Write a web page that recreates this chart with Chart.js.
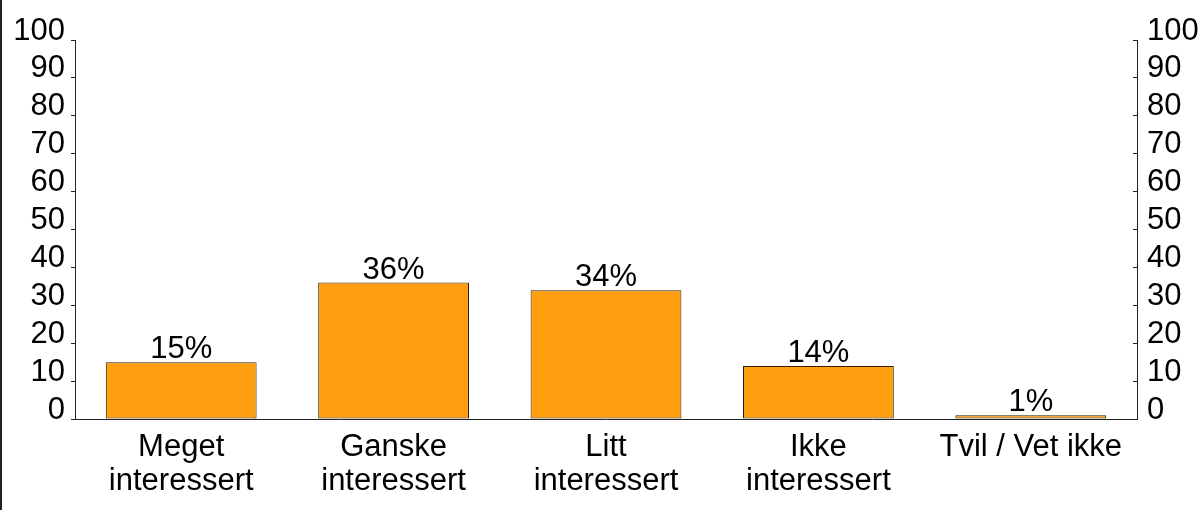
<!DOCTYPE html>
<html lang="no">
<head>
    <meta charset="UTF-8">
    <title>Interesse</title>
    <script src="https://cdn.jsdelivr.net/npm/chart.js@4.4.0/dist/chart.umd.min.js"></script>
    <style>
        html, body { margin: 0; padding: 0; background: #fff; }
        .wrap {
            position: relative;
            width: 1201px;
            height: 510px;
            box-sizing: border-box;
            border-left: 2px solid #222;
        }
        canvas { position: absolute; left: -2px; top: 0; }
    </style>
</head>
<body>
    <div class="wrap">
        <canvas id="chart" width="1201" height="510"></canvas>
    </div>

    <script>
        // data
        const categories = [['Meget', 'interessert'], ['Ganske', 'interessert'], ['Litt', 'interessert'], ['Ikke', 'interessert'], 'Tvil / Vet ikke'];
        const values = [15, 36, 34, 14, 1];
        const valueLabels = ['15%', '36%', '34%', '14%', '1%'];

        const FONT = "'Liberation Sans', Arial, sans-serif";
        const ink = '#000';

        // tekst over stolpene
        const barLabels = {
            id: 'barLabels',
            afterDatasetsDraw(chart) {
                const ctx = chart.ctx;
                const meta = chart.getDatasetMeta(0);
                ctx.save();
                ctx.font = '31px ' + FONT;
                ctx.fillStyle = ink;
                ctx.textAlign = 'center';
                ctx.textBaseline = 'alphabetic';
                meta.data.forEach((bar, i) => {
                    ctx.fillText(valueLabels[i], bar.x, bar.y - 4);
                });
                ctx.restore();
            }
        };

        new Chart(document.getElementById('chart'), {
            type: 'bar',
            data: {
                labels: categories,
                datasets: [{
                    data: values,
                    backgroundColor: '#FF9E0F',
                    borderColor: '#2e2000',
                    borderWidth: 1,
                    borderSkipped: false,
                    barPercentage: 0.71,
                    categoryPercentage: 1.0
                }]
            },
            options: {
                responsive: false,
                animation: false,
                layout: { padding: { top: 40, left: 0, right: 0, bottom: 0 } },
                plugins: {
                    legend: { display: false },
                    tooltip: { enabled: false }
                },
                scales: {
                    x: {
                        grid: { display: false },
                        border: { display: true, color: '#222', width: 1 },
                        ticks: {
                            color: ink,
                            font: { family: FONT, size: 31, lineHeight: 1.1 },
                            padding: 3,
                            maxRotation: 0,
                            autoSkip: false
                        },
                        afterFit(axis) { axis.height = 91; }
                    },
                    y: {
                        position: 'left',
                        min: 0,
                        max: 100,
                        grid: { drawOnChartArea: false, tickLength: 4, color: '#222' },
                        border: { color: '#222', width: 1 },
                        ticks: {
                            stepSize: 10,
                            autoSkip: false,
                            color: ink,
                            labelOffset: -9,
                            padding: 6,
                            font: { family: FONT, size: 31 }
                        },
                        afterFit(axis) { axis.width = 75; }
                    },
                    y2: {
                        position: 'right',
                        min: 0,
                        max: 100,
                        grid: { drawOnChartArea: false, tickLength: -4, color: '#222' },
                        border: { color: '#222', width: 1 },
                        ticks: {
                            stepSize: 10,
                            autoSkip: false,
                            color: ink,
                            labelOffset: -9,
                            padding: 14,
                            font: { family: FONT, size: 31 }
                        },
                        afterFit(axis) { axis.width = 64; }
                    }
                }
            },
            plugins: [barLabels]
        });
    </script>
</body>
</html>
